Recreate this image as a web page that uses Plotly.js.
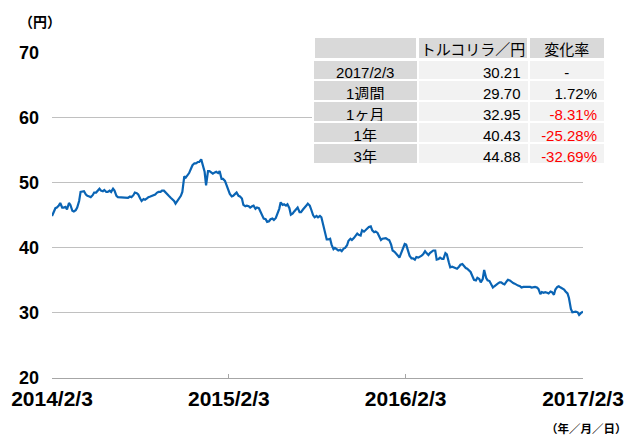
<!DOCTYPE html>
<html>
<head>
<meta charset="utf-8">
<script src="https://cdn.plot.ly/plotly-3.0.1.min.js"></script>
<style>html,body{margin:0;padding:0;background:#fff;}#chart{width:633px;height:436px;}</style>
</head>
<body>
<div id="chart"></div>
<script>
// ---- series: TRY/JPY, twice-weekly readings ----
const dates = [
"2014-02-03","2014-02-06","2014-02-10","2014-02-13","2014-02-17","2014-02-20","2014-02-24","2014-02-27",
"2014-03-03","2014-03-06","2014-03-10","2014-03-13","2014-03-17","2014-03-20","2014-03-24","2014-03-27",
"2014-03-31","2014-04-03","2014-04-07","2014-04-10","2014-04-14","2014-04-17","2014-04-21","2014-04-24",
"2014-04-28","2014-05-01","2014-05-05","2014-05-08","2014-05-12","2014-05-15","2014-05-19","2014-05-22",
"2014-05-26","2014-05-29","2014-06-02","2014-06-05","2014-06-09","2014-06-12","2014-06-16","2014-06-19",
"2014-06-23","2014-06-26","2014-06-30","2014-07-03","2014-07-07","2014-07-10","2014-07-14","2014-07-17",
"2014-07-21","2014-07-24","2014-07-28","2014-07-31","2014-08-04","2014-08-07","2014-08-11","2014-08-14",
"2014-08-18","2014-08-21","2014-08-25","2014-08-28","2014-09-01","2014-09-04","2014-09-08","2014-09-11",
"2014-09-15","2014-09-18","2014-09-22","2014-09-25","2014-09-29","2014-10-02","2014-10-06","2014-10-09",
"2014-10-13","2014-10-16","2014-10-20","2014-10-23","2014-10-27","2014-10-30","2014-11-03","2014-11-06",
"2014-11-10","2014-11-13","2014-11-17","2014-11-20","2014-11-24","2014-11-27","2014-12-01","2014-12-04",
"2014-12-08","2014-12-11","2014-12-15","2014-12-18","2014-12-22","2014-12-25","2014-12-29","2015-01-01",
"2015-01-05","2015-01-08","2015-01-12","2015-01-15","2015-01-19","2015-01-22","2015-01-26","2015-01-29",
"2015-02-02","2015-02-05","2015-02-09","2015-02-12","2015-02-16","2015-02-19","2015-02-23","2015-02-26",
"2015-03-02","2015-03-05","2015-03-09","2015-03-12","2015-03-16","2015-03-19","2015-03-23","2015-03-26",
"2015-03-30","2015-04-02","2015-04-06","2015-04-09","2015-04-13","2015-04-16","2015-04-20","2015-04-23",
"2015-04-27","2015-04-30","2015-05-04","2015-05-07","2015-05-11","2015-05-14","2015-05-18","2015-05-21",
"2015-05-25","2015-05-28","2015-06-01","2015-06-04","2015-06-08","2015-06-11","2015-06-15","2015-06-18",
"2015-06-22","2015-06-25","2015-06-29","2015-07-02","2015-07-06","2015-07-09","2015-07-13","2015-07-16",
"2015-07-20","2015-07-23","2015-07-27","2015-07-30","2015-08-03","2015-08-06","2015-08-10","2015-08-13",
"2015-08-17","2015-08-20","2015-08-24","2015-08-27","2015-08-31","2015-09-03","2015-09-07","2015-09-10",
"2015-09-14","2015-09-17","2015-09-21","2015-09-24","2015-09-28","2015-10-01","2015-10-05","2015-10-08",
"2015-10-12","2015-10-15","2015-10-19","2015-10-22","2015-10-26","2015-10-29","2015-11-02","2015-11-05",
"2015-11-09","2015-11-12","2015-11-16","2015-11-19","2015-11-23","2015-11-26","2015-11-30","2015-12-03",
"2015-12-07","2015-12-10","2015-12-14","2015-12-17","2015-12-21","2015-12-24","2015-12-28","2015-12-31",
"2016-01-04","2016-01-07","2016-01-11","2016-01-14","2016-01-18","2016-01-21","2016-01-25","2016-01-28",
"2016-02-01","2016-02-04","2016-02-08","2016-02-11","2016-02-15","2016-02-18","2016-02-22","2016-02-25",
"2016-02-29","2016-03-03","2016-03-07","2016-03-10","2016-03-14","2016-03-17","2016-03-21","2016-03-24",
"2016-03-28","2016-03-31","2016-04-04","2016-04-07","2016-04-11","2016-04-14","2016-04-18","2016-04-21",
"2016-04-25","2016-04-28","2016-05-02","2016-05-05","2016-05-09","2016-05-12","2016-05-16","2016-05-19",
"2016-05-23","2016-05-26","2016-05-30","2016-06-02","2016-06-06","2016-06-09","2016-06-13","2016-06-16",
"2016-06-20","2016-06-23","2016-06-27","2016-06-30","2016-07-04","2016-07-07","2016-07-11","2016-07-14",
"2016-07-18","2016-07-21","2016-07-25","2016-07-28","2016-08-01","2016-08-04","2016-08-08","2016-08-11",
"2016-08-15","2016-08-18","2016-08-22","2016-08-25","2016-08-29","2016-09-01","2016-09-05","2016-09-08",
"2016-09-12","2016-09-15","2016-09-19","2016-09-22","2016-09-26","2016-09-29","2016-10-03","2016-10-06",
"2016-10-10","2016-10-13","2016-10-17","2016-10-20","2016-10-24","2016-10-27","2016-10-31","2016-11-03",
"2016-11-07","2016-11-10","2016-11-14","2016-11-17","2016-11-21","2016-11-24","2016-11-28","2016-12-01",
"2016-12-05","2016-12-08","2016-12-12","2016-12-15","2016-12-19","2016-12-22","2016-12-26","2016-12-29",
"2017-01-02","2017-01-05","2017-01-09","2017-01-12","2017-01-16","2017-01-19","2017-01-23","2017-01-26",
"2017-01-30","2017-02-02","2017-02-03"
];
const tryJpy = [
44.9,45.5,46.1,46.2,46.5,46.9,46.2,46.2,
46.3,45.9,46.9,46.6,45.7,45.6,45.8,46.2,
47.2,48.6,48.7,48.7,48.2,48.0,47.9,47.8,
48.1,48.5,48.5,48.7,49.1,48.8,48.7,48.9,
48.6,48.6,48.8,48.6,49.1,48.8,48.0,47.8,
47.8,47.8,47.7,47.8,47.8,47.7,47.9,47.8,
48.1,48.5,48.4,48.2,47.6,47.2,47.5,47.4,
47.6,47.8,47.9,48.0,48.2,48.2,48.5,48.6,
48.6,48.8,48.8,48.6,48.3,48.0,47.7,47.5,
47.2,46.8,47.2,47.6,48.0,48.6,51.0,50.8,
51.2,51.5,52.2,52.7,53.0,53.0,53.2,53.2,
53.6,52.7,51.7,49.6,51.8,51.8,51.5,51.4,
51.6,51.7,51.5,51.8,50.6,50.6,50.3,49.7,
48.7,48.3,47.9,48.0,48.3,48.5,48.0,47.9,
47.6,46.6,46.4,46.5,46.4,46.2,46.4,46.5,
46.0,46.2,46.1,45.6,44.8,44.5,44.4,44.0,
44.1,44.4,44.5,44.3,44.6,45.1,46.0,47.0,
46.6,46.7,46.5,46.7,46.1,45.1,45.3,45.6,
46.0,46.2,45.5,45.5,45.9,46.1,46.5,46.8,
46.5,45.9,45.0,44.7,44.9,44.7,44.9,44.7,
43.6,42.5,41.3,41.3,41.4,40.5,39.8,40.0,
39.8,39.6,39.7,39.5,39.9,40.0,40.4,41.1,
41.4,41.2,41.5,41.9,42.2,42.0,41.9,42.7,
42.5,42.7,43.0,43.2,43.3,42.7,42.4,42.5,
42.3,41.7,41.2,41.4,41.5,41.5,41.3,41.2,
40.5,39.6,39.4,39.2,38.8,38.5,39.2,40.0,
40.6,40.5,39.7,38.8,38.4,38.4,38.2,38.6,
38.5,38.6,38.8,39.0,39.5,39.2,38.9,39.2,
39.5,39.6,39.6,38.2,38.3,38.5,38.3,38.3,
39.2,39.0,37.8,37.0,37.1,37.0,36.8,36.8,
37.1,37.4,37.5,37.2,36.9,36.8,36.5,36.3,
35.6,35.1,35.0,35.4,35.2,34.7,35.2,36.6,
35.4,35.0,34.9,34.4,33.9,34.1,34.4,34.5,
34.7,34.7,34.5,34.4,34.8,35.1,35.0,34.8,
34.6,34.5,34.3,34.2,34.1,33.9,34.0,34.0,
34.1,34.0,34.0,33.9,34.0,34.0,33.9,33.7,
32.9,33.2,33.1,33.2,33.1,33.0,33.3,33.2,
32.8,33.6,34.0,34.1,33.9,33.8,33.6,33.3,
33.0,32.3,30.6,30.1,30.2,30.2,30.1,29.7,
30.0,30.2,30.21
];

// ---- axis ticks ----
const yTicks = [20, 30, 40, 50, 60, 70];
const xTickDates = ["2014-02-03", "2015-02-03", "2016-02-03", "2017-02-03"];
const xTickLabels = ["2014/2/3", "2015/2/3", "2016/2/3", "2017/2/3"];

// ---- summary table ----
const tableHeaders = ["", "トルコリラ／円", "変化率"];
const periodLabels = ["2017/2/3", "1週間", "1ヶ月", "1年", "3年"];
const rateValues = [30.21, 29.70, 32.95, 40.43, 44.88];
const changeValues = [null, 1.72, -8.31, -25.28, -32.69];

const rateText = rateValues.map(v => v.toFixed(2));
const changeText = changeValues.map(v => v === null ? "-" : v.toFixed(2) + "%");
const changeColors = changeValues.map(v => (v !== null && v < 0) ? "#ff0000" : "#000000");
const changeAlign = changeValues.map(v => v === null ? "center" : "right");

const FONT = "Arial, 'Liberation Sans', 'Noto Sans CJK JP', sans-serif";
const CJK = "'Noto Sans CJK JP', Arial, sans-serif";

const W = 633, H = 436;
const M = {l: 52, r: 20, t: 30, b: 58};
const pw = W - M.l - M.r, ph = H - M.t - M.b;
const px = x => (x - M.l) / pw;
const py = y => (H - M.b - y) / ph;

const lineTrace = {
  type: "scatter", mode: "lines",
  x: dates, y: tryJpy,
  line: {color: "#0a64b4", width: 2.2},
  hoverinfo: "skip", showlegend: false
};

const tableTrace = {
  type: "table",
  domain: {x: [px(313), px(605)], y: [py(168), py(36)]},
  columnwidth: [104.5, 111, 76.5],
  header: {
    values: tableHeaders,
    align: "center",
    fill: {color: "#d9d9d9"},
    line: {color: "#ffffff", width: 3},
    font: {family: CJK, size: 15, color: "#000000"},
    height: 23
  },
  cells: {
    values: [periodLabels, rateText, changeText],
    align: ["center", "right", changeAlign],
    fill: {color: ["#d9d9d9", "#f2f2f2", "#f2f2f2"]},
    line: {color: "#ffffff", width: 2},
    font: {family: FONT, size: 15, color: ["#000000", "#000000", changeColors]},
    height: 21
  }
};

const layout = {
  width: W, height: H,
  margin: M,
  paper_bgcolor: "#ffffff", plot_bgcolor: "#ffffff",
  showlegend: false,
  xaxis: {
    type: "date",
    domain: [0, (583 - M.l) / pw],
    range: ["2014-02-03", "2017-02-03"],
    tickvals: xTickDates, ticktext: xTickLabels,
    showgrid: false, zeroline: false,
    showline: true, linecolor: "#a6a6a6", linewidth: 1,
    ticks: "inside", ticklen: 4, tickcolor: "#a6a6a6", tickwidth: 1,
    tickfont: {family: FONT, size: 21, color: "#000000", weight: "bold"},
    ticklabelstandoff: 2,
    fixedrange: true
  },
  yaxis: {
    domain: [0, (378 - 52.7) / ph],
    range: [20, 70],
    tickvals: yTicks,
    showgrid: true, gridcolor: "#c0c0c0", gridwidth: 1,
    zeroline: false, showline: false, ticks: "",
    tickfont: {family: FONT, size: 18, color: "#000000", weight: "bold"},
    ticklabelstandoff: 12,
    fixedrange: true
  },
  annotations: [
    {text: "（円）", xref: "paper", yref: "paper", x: px(40), y: py(21),
     xanchor: "center", yanchor: "middle", showarrow: false,
     font: {family: CJK, size: 14, color: "#000000", weight: "bold"}},
    {text: "（年／月／日）", xref: "paper", yref: "paper", x: px(629), y: py(428),
     xanchor: "right", yanchor: "middle", showarrow: false,
     font: {family: CJK, size: 11.5, color: "#000000", weight: "bold"}}
  ]
};

Plotly.newPlot("chart", [lineTrace, tableTrace], layout, {staticPlot: true, displayModeBar: false});
</script>
</body>
</html>
